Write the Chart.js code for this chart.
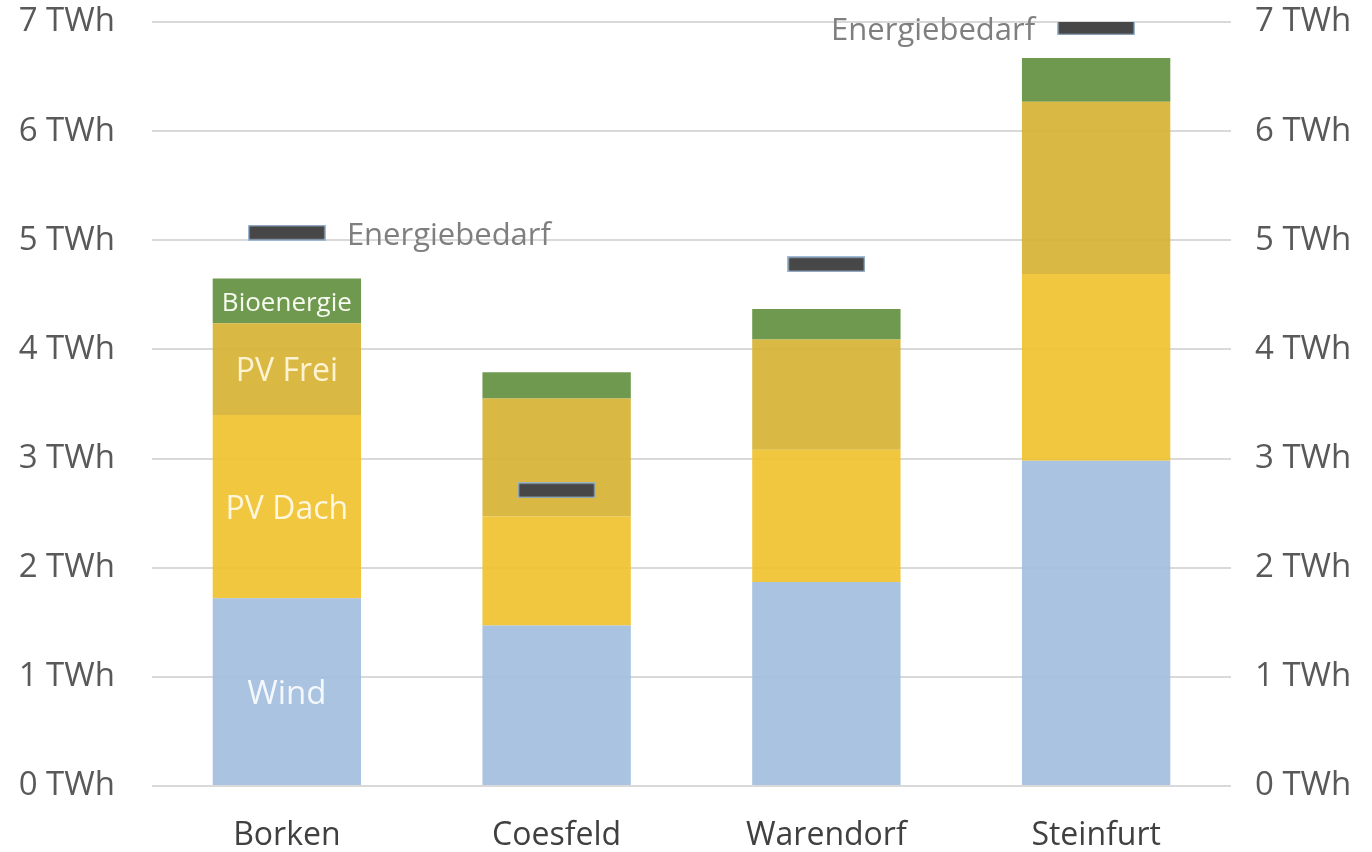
<!DOCTYPE html>
<html lang="de">
<head>
<meta charset="utf-8">
<title>Erneuerbare Energien im Münsterland</title>
<script src="https://cdn.jsdelivr.net/npm/chart.js@4"></script>
<style>
  html, body { margin: 0; padding: 0; background: #ffffff; }
  #wrap { width: 1372px; height: 852px; position: relative; }
</style>
</head>
<body>
<div id="wrap"><canvas id="chart"></canvas></div>
<script>
// Kreise (Kategorien)
const kreise = ['Borken', 'Coesfeld', 'Warendorf', 'Steinfurt'];

// Erzeugungspotenziale in TWh je Technologie
const wind       = [1.72, 1.47, 1.87, 2.98];
const pvDach     = [1.68, 1.00, 1.21, 1.71];
const pvFrei     = [0.84, 1.08, 1.01, 1.58];
const bioenergie = [0.41, 0.24, 0.28, 0.40];

// Energiebedarf je Kreis in TWh
const energiebedarf = [5.07, 2.71, 4.78, 6.95];

// Achsenbeschriftung
const yTicks = [0, 1, 2, 3, 4, 5, 6, 7];

const FONT = '"Open Sans", "Noto Sans", sans-serif';

// Balkenmarke für den Energiebedarf als eigenes Punktsymbol
function makeMarker() {
    const c = document.createElement('canvas');
    c.width = 78;
    c.height = 16;
    const g = c.getContext('2d');
    g.fillStyle = 'rgba(150, 180, 210, 0.9)';
    g.fillRect(0, 0, 78, 16);
    g.fillStyle = '#474747';
    g.fillRect(1.5, 1.5, 75, 13);
    return c;
}

// Beschriftungen im ersten Balken und neben den Bedarfsmarken
const labelPlugin = {
    id: 'segmentLabels',
    afterDatasetsDraw(chart) {
        const ctx = chart.ctx;
        ctx.save();
        ctx.textAlign = 'center';
        ctx.textBaseline = 'middle';
        const inner = [
            { ds: 0, text: 'Wind', color: '#f4f8fc', size: 33 },
            { ds: 1, text: 'PV Dach', color: '#fff6dc', size: 32 },
            { ds: 2, text: 'PV Frei', color: '#fff3d2', size: 32 },
            { ds: 3, text: 'Bioenergie', color: '#f6faf0', size: 26 }
        ];
        inner.forEach(l => {
            const el = chart.getDatasetMeta(l.ds).data[0];
            ctx.font = l.size + 'px ' + FONT;
            ctx.fillStyle = l.color;
            ctx.fillText(l.text, el.x, (el.y + el.base) / 2 + 3);
        });

        const meta = chart.getDatasetMeta(4);
        ctx.font = '31px ' + FONT;
        ctx.fillStyle = '#7f7f7f';
        const b = meta.data[0];
        ctx.textAlign = 'left';
        ctx.fillText('Energiebedarf', b.x + 39 + 21, b.y + 4);
        const s = meta.data[3];
        ctx.textAlign = 'right';
        ctx.fillText('Energiebedarf', s.x - 39 - 22, s.y + 4);
        ctx.restore();
    }
};

const tickStyle = {
    color: '#595959',
    font: { family: FONT, size: 33 }
};

// Tick-Abstand soll die Höhe der Zeichenfläche nicht verkleinern
function fixWidth(w) {
    return scale => {
        scale.width = w;
        scale.paddingTop = 0;
        scale.paddingBottom = 0;
    };
}

const data = {
    labels: kreise,
    datasets: [
        { type: 'bar', label: 'Wind', data: wind, backgroundColor: 'rgba(160, 189, 221, 0.9)' },
        { type: 'bar', label: 'PV Dach', data: pvDach, backgroundColor: 'rgba(240, 193, 42, 0.9)' },
        { type: 'bar', label: 'PV Frei', data: pvFrei, backgroundColor: 'rgba(214, 176, 48, 0.9)' },
        { type: 'bar', label: 'Bioenergie', data: bioenergie, backgroundColor: 'rgba(95, 142, 59, 0.9)' },
        {
            type: 'line', label: 'Energiebedarf', data: energiebedarf,
            showLine: false, stack: 'bedarf', order: -1,
            pointStyle: makeMarker(), pointRadius: 10, pointHoverRadius: 10
        }
    ]
};

new Chart(document.getElementById('chart'), {
    data: data,
    options: {
        responsive: true,
        maintainAspectRatio: false,
        animation: false,
        layout: { padding: { top: 22, bottom: 0, left: 0, right: 0 } },
        datasets: {
            bar: { barPercentage: 0.55, categoryPercentage: 1.0, borderWidth: 0 }
        },
        plugins: {
            legend: { display: false },
            tooltip: { enabled: false }
        },
        scales: {
            x: {
                stacked: true,
                grid: { display: false, drawTicks: false },
                border: { display: false },
                ticks: { color: '#404040', font: { family: FONT, size: 32 }, padding: 31 },
                afterFit(scale) { scale.height = 66; }
            },
            y: {
                stacked: true,
                position: 'left',
                min: 0, max: 7,
                afterBuildTicks(scale) { scale.ticks = yTicks.map(v => ({ value: v })); },
                grid: { color: '#d9d9d9', lineWidth: 2, drawTicks: false },
                border: { display: false },
                ticks: { ...tickStyle, padding: 37, callback: v => v + ' TWh' },
                afterFit: fixWidth(152)
            },
            y2: {
                position: 'right',
                min: 0, max: 7,
                afterBuildTicks(scale) { scale.ticks = yTicks.map(v => ({ value: v })); },
                grid: { display: false, drawTicks: false },
                border: { display: false },
                ticks: { ...tickStyle, padding: 24, callback: v => v + ' TWh' },
                afterFit: fixWidth(141)
            }
        }
    },
    plugins: [labelPlugin]
});
</script>
</body>
</html>
